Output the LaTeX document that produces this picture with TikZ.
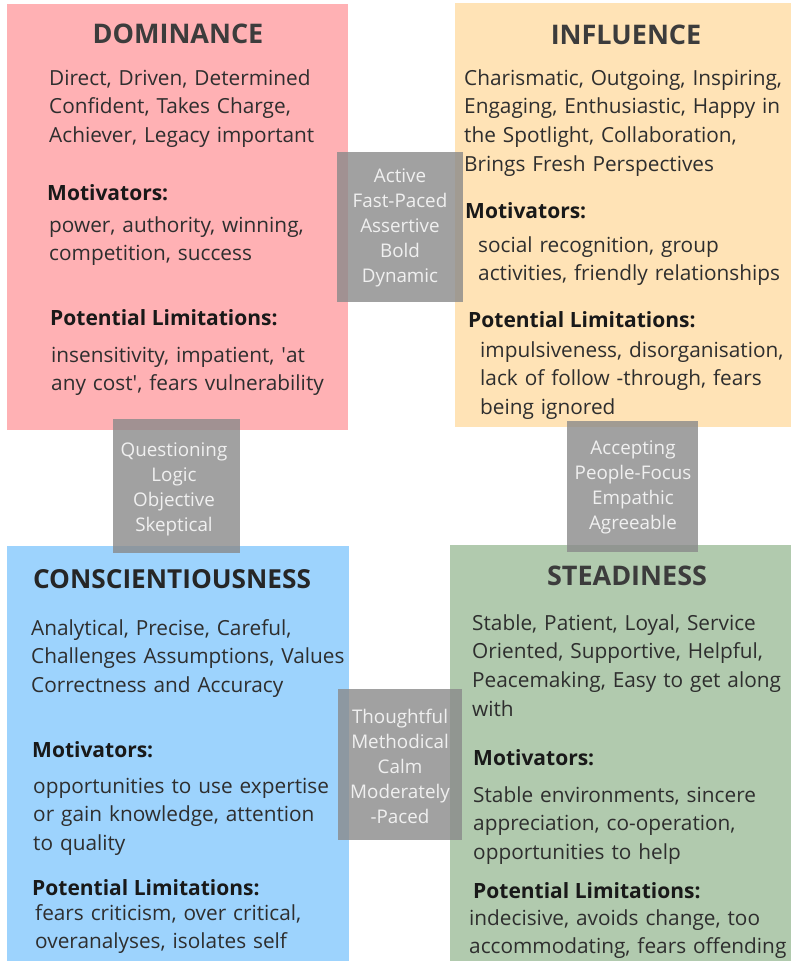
\documentclass[tikz,border=0pt]{standalone}
\usepackage{fontspec}
\setmainfont{Open Sans}
\definecolor{domfill}{HTML}{FFB1B4}
\definecolor{inffill}{HTML}{FFE3B6}
\definecolor{confill}{HTML}{9DD3FD}
\definecolor{stefill}{HTML}{B1CAAE}
\definecolor{pairfill}{HTML}{8A8A8A}
\definecolor{bodytxt}{HTML}{2E2E2E}
\definecolor{titletxt}{HTML}{3C3C3C}
\definecolor{pairtxt}{HTML}{F0F0F0}
\tikzset{
  quadtitle/.style={font=\bfseries\fontsize{27}{30}\selectfont, text=titletxt, inner sep=0pt, anchor=base},
  quadbody/.style={font=\fontsize{20.8}{28.7}\selectfont, text=bodytxt, inner sep=0pt, anchor=base west,
    text width=360pt, align=left},
  quadhead/.style={font=\bfseries\fontsize{21}{28.7}\selectfont, text=black!90, inner sep=0pt, anchor=base west},
  pairbox/.style={fill=pairfill, fill opacity=.8},
  pairtext/.style={font=\fontsize{18.8}{25}\selectfont, text=pairtxt, inner sep=0pt, anchor=base,
    text width=130pt, align=center},
}
\begin{document}
\begin{tikzpicture}[x=1pt,y=-1pt]
  \useasboundingbox (0,0) rectangle (791,961);
  % quadrants
  \fill[domfill] (7,4) rectangle (348,430);
  \fill[inffill] (455,3) rectangle (791,427);
  \fill[confill] (7,546) rectangle (349,961);
  \fill[stefill] (450,545) rectangle (791,961);
  % links between quadrants
  \fill[pairbox] (337,152) rectangle (463,302);
  \fill[pairbox] (113,419) rectangle (240,553);
  \fill[pairbox] (567,421) rectangle (698,552);
  \fill[pairbox] (338,689) rectangle (462,840);

  % Dominance
  \node[quadtitle] (domtitle) at (178,43) {DOMINANCE};
  \node[quadbody] (domtraits) at (49,85) {Direct, Driven, Determined\\Confident, Takes Charge,\\Achiever, Legacy important};
  \node[quadhead] (dommothead) at (47,200) {Motivators:};
  \node[quadbody] (dommot) at (49,232) {power, authority, winning,\\competition, success};
  \node[quadhead] (domlimhead) at (50,325) {Potential Limitations:};
  \node[quadbody] (domlim) at (51,362) {insensitivity, impatient, \textquotesingle at\\any cost\textquotesingle, fears vulnerability};

  % Influence
  \node[quadtitle] (inftitle) at (626,44) {INFLUENCE};
  \node[quadbody] (inftraits) at (464,85) {Charismatic, Outgoing, Inspiring,\\Engaging, Enthusiastic, Happy in\\the Spotlight, Collaboration,\\Brings Fresh Perspectives};
  \node[quadhead] (infmothead) at (465,218) {Motivators:};
  \node[quadbody] (infmot) at (478,252) {social recognition, group\\activities, friendly relationships};
  \node[quadhead] (inflimhead) at (468,327) {Potential Limitations:};
  \node[quadbody] (inflim) at (480,357) {impulsiveness, disorganisation,\\lack of follow -through, fears\\being ignored};

  % Conscientiousness
  \node[quadtitle, font=\bfseries\fontsize{26.2}{30}\selectfont, text=black!85] (contitle) at (172,588) {CONSCIENTIOUSNESS};
  \node[quadbody] (contraits) at (31,635) {Analytical, Precise, Careful,\\Challenges Assumptions, Values\\Correctness and Accuracy};
  \node[quadhead] (conmothead) at (32,757) {Motivators:};
  \node[quadbody] (conmot) at (33,793) {opportunities to use expertise\\or gain knowledge, attention\\to quality};
  \node[quadhead] (conlimhead) at (32,895) {Potential Limitations:};
  \node[quadbody] (conlim) at (35,920) {fears criticism, over critical,\\overanalyses, isolates self};

  % Steadiness
  \node[quadtitle] (stetitle) at (627,585) {STEADINESS};
  \node[quadbody] (stetraits) at (472,630) {Stable, Patient, Loyal, Service\\Oriented, Supportive, Helpful,\\Peacemaking, Easy to get along\\with};
  \node[quadhead] (stemothead) at (473,765) {Motivators:};
  \node[quadbody] (stemot) at (473,802) {Stable environments, sincere\\appreciation, co-operation,\\opportunities to help};
  \node[quadhead] (stelimhead) at (473,898) {Potential Limitations:};
  \node[quadbody] (stelim) at (469,925) {indecisive, avoids change, too\\accommodating, fears offending};

  % shared traits
  \node[pairtext] (pairdi) at (400,182) {Active\\Fast-Paced\\Assertive\\Bold\\Dynamic};
  \node[pairtext] (pairdc) at (174,456) {Questioning\\Logic\\Objective\\Skeptical};
  \node[pairtext] (pairis) at (633,454) {Accepting\\People-Focus\\Empathic\\Agreeable};
  \node[pairtext] (paircs) at (400,723) {Thoughtful\\Methodical\\Calm\\Moderately\\-Paced};
\end{tikzpicture}
\end{document}
